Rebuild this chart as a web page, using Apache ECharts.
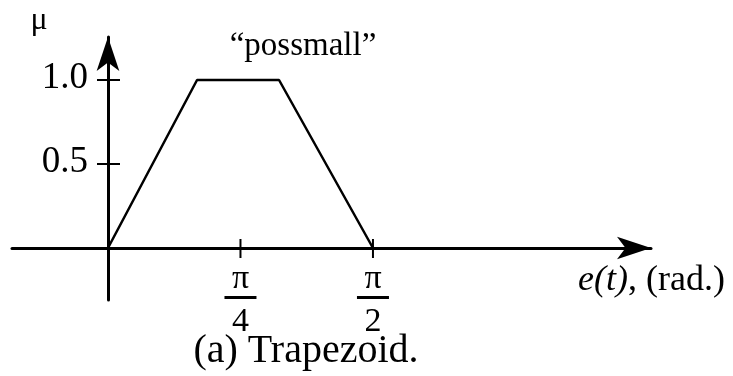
<!DOCTYPE html>
<html>
<head>
<meta charset="utf-8">
<script src="https://cdn.jsdelivr.net/npm/echarts@6/dist/echarts.min.js"></script>
<style>
  html, body { margin: 0; padding: 0; background: #fff; }
  #chart { width: 733px; height: 376px; }
</style>
</head>
<body>
<div id="chart"></div>
<script>
// Trapezoidal membership function "possmall" over e(t) in radians
const PI = Math.PI;
const memberX = [0, 0.528, 1.014, PI / 2];   // e(t), rad
const memberY = [0, 1.0, 1.0, 0];            // membership degree μ
const xTickValues = [PI / 4, PI / 2];
const xTickDenominators = ['4', '2'];
const yTickValues = [0.5, 1.0];
const yTickLabels = ['0.5', '1.0'];

const serif = 'Liberation Serif, Times New Roman, serif';
const ink = '#000';

const chart = echarts.init(document.getElementById('chart'));

const lineData = memberX.map((x, i) => [x, memberY[i]]);

// tick marks that cross the axes, with their labels, placed on the zero lines
const tickItems = [
  ...xTickValues.map((v, i) => [v, 0, 'x', i]),
  ...yTickValues.map((v, i) => [0, v, 'y', i])
];

function renderTick(params, api) {
  const item = tickItems[params.dataIndex];
  const p = api.coord([item[0], item[1]]);
  if (item[2] === 'x') {
    return {
      type: 'group',
      children: [
        { type: 'line', shape: { x1: p[0], y1: p[1] - 9, x2: p[0], y2: p[1] + 10 },
          style: { stroke: ink, lineWidth: 2 } },
        { type: 'text', x: p[0], y: p[1] + 14,
          style: {
            text: '{n|π}\n{bar|\u00a0}\n{d|' + xTickDenominators[item[3]] + '}',
            align: 'center', verticalAlign: 'top',
            rich: {
              n: { fontFamily: serif, fontSize: 34, fill: ink, lineHeight: 34, align: 'center' },
              bar: { width: 32, height: 3, lineHeight: 3, fontSize: 1, backgroundColor: ink, align: 'center' },
              d: { fontFamily: serif, fontSize: 34, fill: ink, lineHeight: 46, align: 'center' }
            }
          } }
      ]
    };
  }
  return {
    type: 'group',
    children: [
      { type: 'line', shape: { x1: p[0] - 11, y1: p[1], x2: p[0] + 12, y2: p[1] },
        style: { stroke: ink, lineWidth: 2 } },
      { type: 'text', x: p[0] - 20, y: p[1] - 2,
        style: { text: yTickLabels[item[3]], fontFamily: serif, fontSize: 37, fill: ink,
                 align: 'right', verticalAlign: 'middle' } }
    ]
  };
}

chart.setOption({
  backgroundColor: '#fff',
  animation: false,
  grid: { left: 12, right: 82, top: 37, bottom: 76, outerBoundsMode: 'none', containLabel: false },
  xAxis: {
    type: 'value',
    min: -0.569,
    max: 3.219,
    splitLine: { show: false },
    axisLine: {
      onZero: true,
      symbol: ['none', 'arrow'],
      symbolSize: [17, 34],
      lineStyle: { color: ink, width: 3 }
    },
    axisTick: { show: false },
    axisLabel: { show: false }
  },
  yAxis: {
    type: 'value',
    min: -0.3095,
    max: 1.256,
    splitLine: { show: false },
    axisLine: {
      onZero: true,
      symbol: ['none', 'arrow'],
      symbolSize: [17, 34],
      lineStyle: { color: ink, width: 3 }
    },
    axisTick: { show: false },
    axisLabel: { show: false }
  },
  series: [
    {
      type: 'line',
      data: lineData,
      symbol: 'none',
      lineStyle: { color: ink, width: 2.5 },
      z: 3
    },
    {
      type: 'custom',
      data: tickItems.map(t => [t[0], t[1]]),
      silent: true,
      clip: false,
      renderItem: renderTick,
      z: 4
    }
  ],
  graphic: [
    {
      type: 'text', x: 39, y: 21,
      style: { text: 'μ', font: '32px ' + serif, fill: ink, align: 'center', verticalAlign: 'middle' }
    },
    {
      type: 'text', x: 303, y: 46,
      style: { text: '\u201cpossmall\u201d', font: '33px ' + serif, fill: ink, align: 'center', verticalAlign: 'middle' }
    },
    {
      type: 'text', x: 578, y: 281,
      style: {
        text: '{i|e(t)}, (rad.)',
        font: '36px ' + serif, fill: ink, align: 'left', verticalAlign: 'middle',
        rich: { i: { fontFamily: serif, fontSize: 36, fontStyle: 'italic', fill: ink } }
      }
    },
    {
      type: 'text', x: 306, y: 351,
      style: { text: '(a) Trapezoid.', font: '40px ' + serif, fill: ink, align: 'center', verticalAlign: 'middle' }
    }
  ]
});
</script>
</body>
</html>
